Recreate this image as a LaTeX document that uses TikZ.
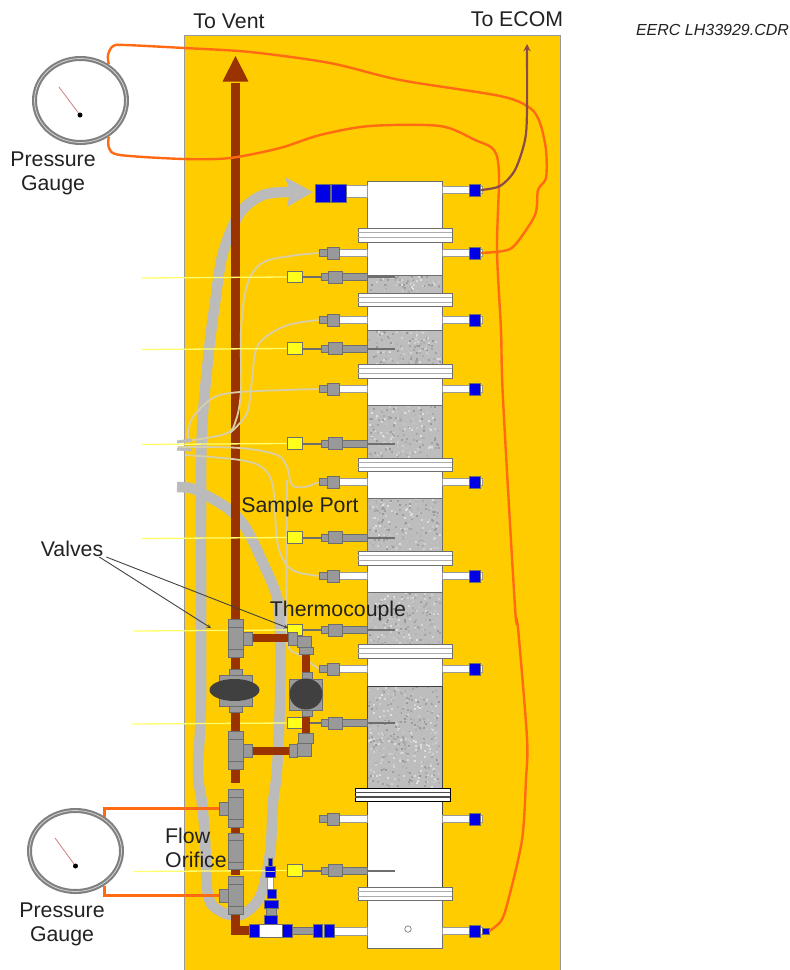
\documentclass[tikz,border=0pt]{standalone}
\usepackage{fontspec}
\setmainfont{Liberation Sans}
\usetikzlibrary{shapes.geometric}

\definecolor{boardY}{HTML}{FFCC00}
\definecolor{pipeBr}{HTML}{993300}
\definecolor{loopGr}{HTML}{BBBBBB}
\definecolor{fitGr}{HTML}{999999}
\definecolor{edgeGr}{HTML}{6E6E6E}
\definecolor{portBl}{HTML}{0000E6}
\definecolor{wireOr}{HTML}{FF6A13}
\definecolor{wirePu}{HTML}{8A4A4A}
\definecolor{lineTn}{HTML}{D8CFA8}
\definecolor{tcYe}{HTML}{FFFF1A}
\definecolor{textDk}{HTML}{222222}

\pgfdeclarelayer{front}
\pgfsetlayers{main,front}

\begin{document}
\begin{tikzpicture}[
    x=1pt, y=-1pt,
    lbl/.style={font=\fontsize{21.3}{24}\selectfont, text=textDk, inner sep=0pt, align=center},
    fitting/.style={draw=edgeGr, fill=fitGr, line width=0.6pt},
    tubew/.style={draw=edgeGr!70, fill=white, line width=0.6pt},
    bluefit/.style={draw=edgeGr, fill=portBl, line width=0.5pt, inner sep=0pt, minimum width=11pt, minimum height=12pt},
    fitnode/.style={fitting, inner sep=0pt},
    flange/.style={draw=edgeGr, fill=white, line width=0.7pt},
    brown/.style={pipeBr, line width=9pt},
    loopline/.style={loopGr, line width=10.5pt},
    tanline/.style={lineTn, line width=1.8pt},
    wire/.style={wireOr, line width=2.4pt},
    wirethick/.style={wireOr, line width=2.8pt},
    tcwire/.style={tcYe!65!white, line width=1.3pt},
    leader/.style={->, >=stealth, textDk!85, line width=0.9pt},
    gauge/.style={ellipse, draw=gray, fill=white, line width=5pt, inner sep=0pt},
    needle/.style={draw=red!45!gray!70, line width=0.8pt},
    hub/.style={circle, fill=black, inner sep=0pt, minimum size=5pt},
]
\useasboundingbox (0,0) rectangle (790,970);

% --- Board ---
\fill[white] (0,0) rectangle (790,970);
\draw[fill=boardY, draw=gray!80, line width=0.8pt] (184,35) rectangle (560,975);

% --- Wide sample loop (under the vent pipe) ---
\draw[loopline] plot[smooth, tension=0.55] coordinates {
    (291,192) (263,195) (240,213) (223,253) (215,303) (209,350) (202,430)
    (201,520) (201,700) (198,770) (202,803) (205,837) (208,895) (220,911)
    (240,915) (260,897) (270,853) (273,803) (277,770) (280,700) (280,630)
    (277,597) (263,563) (247,530) (230,510) (202,493) (190,488) (177,487)};
\fill[loopGr] (313,192) -- (285,177) -- (290,192) -- (287,207) -- cycle;

% --- Vent pipe ---
\draw[brown] (235.5,83) -- (235.5,625);
\fill[pipeBr] (235.5,56) -- (248.5,81.5) -- (222.5,81.5) -- cycle;

% --- Column ---
\draw[draw=edgeGr, fill=white, line width=0.9pt] (367,181) rectangle (442,948);

% Packed beds, speckled
\pgfmathsetseed{4217}
\foreach \yt/\yb in {275/293, 330/365, 405/458, 498/551, 592/645, 686/788} {
    \fill[black!26] (367.5,\yt) rectangle (441.5,\yb);
    \pgfmathtruncatemacro{\nspeck}{(\yb-\yt)*4}
    \foreach \k in {1,...,\nspeck} {
        \pgfmathsetmacro{\spx}{368+rnd*71}
        \pgfmathsetmacro{\spy}{\yt+rnd*(\yb-\yt-2)}
        \pgfmathtruncatemacro{\spc}{12+rnd*30}
        \fill[black!\spc] (\spx,\spy) rectangle ++(2,2);
    }
    \draw[edgeGr, line width=0.8pt] (367,\yt) -- (442,\yt);
}
\draw[black!75, line width=1pt] (367,686) rectangle (442,888);

% Flanges
\foreach \yt/\yb in {228/242, 293/306, 364/378, 458/471, 551/565, 644/658, 887/900} {
    \draw[flange] (358,\yt) rectangle (452,\yb);
    \draw[gray!65, line width=1.8pt] (358,{\yt+4.5}) -- (452,{\yt+4.5});
    \draw[gray!65, line width=1.8pt] (358,{\yt+9.5}) -- (452,{\yt+9.5});
}
\draw[flange, draw=black] (355,788) rectangle (450,801.5);
\draw[black!70, line width=1.2pt] (355,792.5) -- (450,792.5);
\draw[black!70, line width=1.2pt] (355,797) -- (450,797);

% --- Right hand ports ---
\foreach \i/\y in {1/190, 2/253, 3/320, 4/389, 5/482, 6/576, 7/669, 8/819, 9/931} {
    \draw[tubew] (442,{\y-3.5}) rectangle (482,{\y+3.5});
    \node[bluefit] (rport\i) at (475,\y) {};
}
\node[bluefit, minimum width=7pt, minimum height=6pt] (endcap) at (485.5,931) {};

% --- Left hand sample ports ---
\foreach \i/\y in {1/253, 2/320, 3/389, 4/482, 5/576, 6/669, 7/819} {
    \draw[tubew] (339,{\y-3.5}) rectangle (367,{\y+3.5});
    \draw[fitting] (327,{\y-6}) rectangle (339,{\y+6});
    \node[fitnode, minimum width=8pt, minimum height=7pt] (sport\i) at (323,\y) {};
}

% --- Thin sample lines ---
\draw[tanline] plot[smooth, tension=0.55] coordinates {(sport1.west) (290,256) (262,263) (247,285) (241,330) (241,390) (236,420) (225,434) (178,442)};
\draw[tanline] plot[smooth, tension=0.55] coordinates {(sport2.west) (285,326) (258,345) (252,380) (247,413) (230,433)};
\draw[tanline] plot[smooth, tension=0.55] coordinates {(sport3.west) (240,392) (213,398) (193,417) (188,433) (189,443)};
\draw[tanline] plot[smooth, tension=0.55] coordinates {(sport4.west) (305,487) (292,485) (287,467) (277,455) (240,448) (178,447)};
\draw[tanline] plot[smooth, tension=0.55] coordinates {(sport5.west) (297,572) (285,563) (277,540) (273,487) (263,468) (240,460) (185,455)};
\draw[tanline] plot[smooth, tension=0.3] coordinates {(sport6.west) (300,655) (287,640) (287,480)};
\draw[loopGr, line width=3pt] (177,442) -- (192,440);
\draw[loopGr, line width=3pt] (177,449) -- (192,450);

% --- Thermocouples ---
\foreach \i/\y/\xs in {1/277/142, 2/348.5/142, 3/443.5/142, 4/537.5/142, 5/630/134, 6/723/132, 7/870.5/134} {
    \draw[edgeGr, line width=2pt] (301,\y) -- (395,\y);
    \draw[fitting] (342,{\y-3.5}) rectangle (367,{\y+3.5});
    \draw[fitting] (328,{\y-6}) rectangle (342,{\y+6});
    \draw[fitting] (321,{\y-3.5}) rectangle (328,{\y+3.5});
    \node[fitnode, fill=tcYe, minimum width=15pt, minimum height=11.5pt] (tc\i) at (294.5,\y) {};
    \coordinate (tcend\i) at (\xs,{\y+1});
    \draw[tcwire] (tc\i.west) -- (tcend\i);
}

% --- Valve train, lower part of the vent pipe ---
\draw[brown] (235.5,625) -- (235.5,783);
\draw[brown] (235.5,827) -- (235.5,875);
\draw[brown] (235.5,910) -- (235.5,930) -- (250,930);
\draw[pipeBr, line width=8pt] (252,638) -- (288,638);
\draw[pipeBr, line width=8pt] (252,751) -- (289,751);
\draw[pipeBr, line width=8.5pt] (306,652) -- (306,734);

% Tees
\foreach \i/\yt/\sx in {1/619/243, 2/731.5/243, 3/789/219, 4/876/219} {
    \draw[fitting] (228,\yt) rectangle (243,{\yt+38});
    \draw[edgeGr, line width=0.6pt] (228,{\yt+8}) -- (243,{\yt+8});
    \draw[edgeGr, line width=0.6pt] (228,{\yt+30}) -- (243,{\yt+30});
    \node[fitnode, minimum width=9pt, minimum height=13pt] (stub\i) at ({\sx+4.5},{\yt+19.5}) {};
}

% Flow orifice
\draw[fitting] (228,833) rectangle (243,869.5);
\draw[edgeGr, line width=0.6pt] (228,840) -- (243,840);
\draw[edgeGr, line width=0.6pt] (228,862) -- (243,862);

% Valves
\draw[fitting] (229,669) rectangle (242,712);
\draw[fitting] (219,675) rectangle (252,706);
\node[ellipse, fill=black!75, inner sep=0pt, minimum width=50pt, minimum height=22pt] (valveA) at (234.5,690) {};
\draw[fitting] (302,672) rectangle (312,716);
\draw[fitting] (289,679) rectangle (322,710);
\node[ellipse, fill=black!75, inner sep=0pt, minimum width=33pt, minimum height=31pt] (valveB) at (306,694) {};

% Elbows of the by-pass
\draw[fitting] (297,636) rectangle (311,647);
\draw[fitting] (299,647) rectangle (313,654);
\draw[fitting] (288,632) rectangle (297,645);
\draw[fitting] (298,733) rectangle (313,743);
\draw[fitting] (297,743) rectangle (311,756);
\draw[fitting] (289,744.5) rectangle (297,757.5);

% --- Inlet tee ---
\draw[fitting] (292,927) rectangle (314,934);
\draw[tubew] (334,927) rectangle (367,935);
\draw[draw=edgeGr, fill=white, line width=0.6pt] (259,924) rectangle (283,937);
\foreach \xa/\xb in {249/259, 282/292, 313/322.5, 324/334} {
    \draw[draw=edgeGr, fill=portBl, line width=0.5pt] (\xa,924) rectangle (\xb,937);
}
\draw[tubew] (267,877) rectangle (273,890);
\draw[fitting] (266,908) rectangle (276,915);
\foreach \xa/\xb/\ya/\yb in {264/277/915/924, 264/278/900/908, 267/276/889/898, 265/275/866/877, 268/272/858/866} {
    \draw[draw=edgeGr, fill=portBl, line width=0.5pt] (\xa,\ya) rectangle (\xb,\yb);
}
\draw[loopGr, line width=1pt] (265,871) -- (275,871);
\node[circle, draw=edgeGr, fill=white, line width=0.6pt, inner sep=0pt, minimum size=6.5pt] (drain) at (408,929) {};

% --- Top inlet ---
\draw[tubew] (346,185) rectangle (367,197);
\foreach \xa/\xb in {315/330, 331/346} {
    \draw[draw=edgeGr, fill=portBl, line width=0.5pt] (\xa,184) rectangle (\xb,202);
}

% --- Gauges (in front of their wires) ---
\begin{pgfonlayer}{front}
\node[gauge, minimum width=92pt, minimum height=84pt] (gaugeA) at (80.5,100.5) {};
\node[gauge, minimum width=92pt, minimum height=81pt] (gaugeB) at (75.5,851) {};
\node[ellipse, draw=gray!35, line width=0.8pt, inner sep=0pt, minimum width=92pt, minimum height=84pt] (ringA) at (gaugeA) {};
\node[ellipse, draw=gray!35, line width=0.8pt, inner sep=0pt, minimum width=92pt, minimum height=81pt] (ringB) at (gaugeB) {};
\node[hub] (hubA) at (80,115) {};
\node[hub] (hubB) at (75.5,866) {};
\coordinate (tipA) at (59,87);
\coordinate (tipB) at (55,838);
\draw[needle] (hubA) -- (tipA);
\draw[needle] (hubB) -- (tipB);
\end{pgfonlayer}

% --- Wires ---
\draw[wire] plot[smooth, tension=0.5] coordinates {
    (gaugeA.52) (108,55) (113,46) (125,45) (184,48) (250,52) (330,63) (400,80)
    (500,96) (530,108) (540,123) (546,150) (546,178) (538,190) (535,215)
    (515,245) (503,251) (rport2.east)};
\draw[wire] plot[smooth, tension=0.5] coordinates {
    (gaugeA.-52) (109,148) (120,155) (184,159) (230,158) (280,148) (320,135)
    (370,126) (440,126) (475,140) (494,150) (499,175) (497,250) (501,330)
    (503,399) (515,607) (518,628) (527,738) (526,779) (522,840) (508,901)
    (501,921) (endcap.east)};
\draw[wirethick] (gaugeB.50) |- (stub3.west);
\draw[wirethick] (gaugeB.-50) |- (stub4.west);
\coordinate (ecomtop) at (527,44);
\draw[->, >=stealth, wirePu, line width=2.2pt] plot[smooth, tension=0.5] coordinates {
    (rport1.east) (500,186) (515,170) (525,140) (527,110) (ecomtop)};

% --- Labels ---
\node[lbl] (vent) at (229,21) {To Vent};
\node[lbl] (ecom) at (517,19) {To ECOM};
\node[lbl, font=\fontsize{16}{18}\selectfont\itshape] (drawing) at (712.5,30) {EERC LH33929.CDR};
\node[lbl] (labelA) at (53,173) {Pressure\\Gauge};
\node[lbl] (labelB) at (62,924.5) {Pressure\\Gauge};
\node[lbl, align=left, anchor=west] (orifice) at (165,848) {Flow\\Orifice};
\node[lbl] (sample) at (300,507) {Sample Port};
\node[lbl] (thermo) at (338,611) {Thermocouple};
\node[lbl] (valves) at (72,549) {Valves};

% Leaders from the valve label
\coordinate (leadL) at (211,628);
\coordinate (leadR) at (288,628);
\draw[leader] ([xshift=-4pt]valves.south east) -- (leadL);
\draw[leader] ([xshift=3pt]valves.south east) -- (leadR);

\end{tikzpicture}
\end{document}
